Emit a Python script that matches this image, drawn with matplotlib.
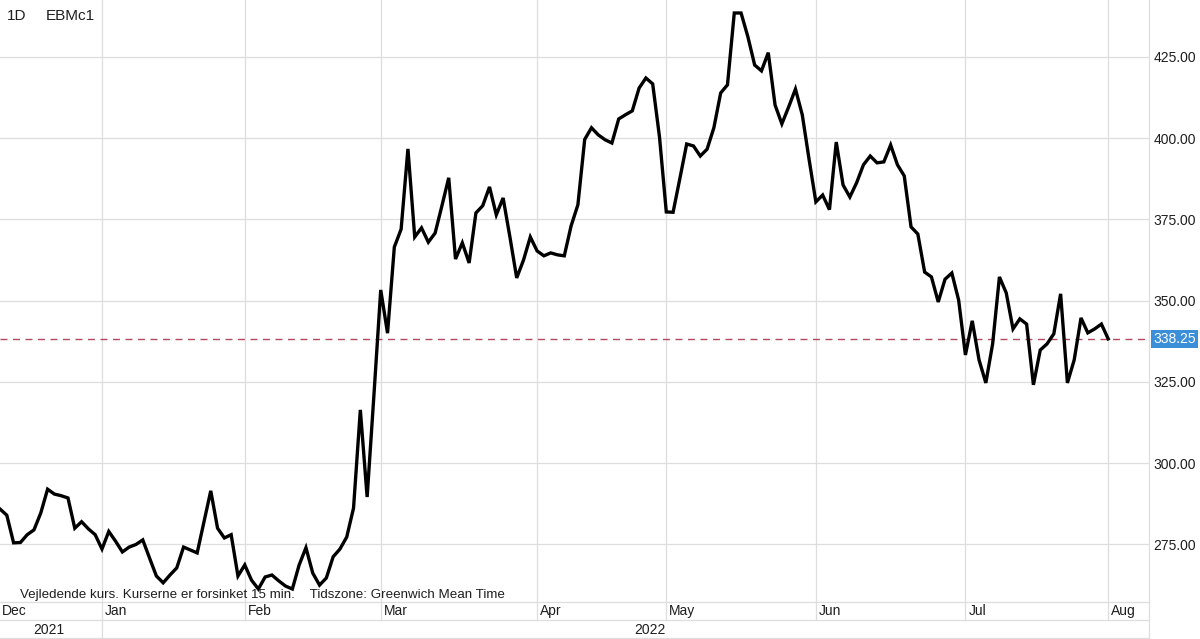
import matplotlib
matplotlib.use("Agg")
import matplotlib.pyplot as plt
import matplotlib.transforms as mtransforms

plt.rcParams['font.family'] = ['Liberation Sans', 'DejaVu Sans']

# Daily closes (trading-day index 0 .. 163), EBMc1
prices = [
    285.9, 284.0, 275.5, 275.6, 278.0, 279.5, 284.7, 292.0, 290.5, 290.0,
    289.3, 280.0, 282.0, 279.8, 278.0, 273.6, 279.0, 276.0, 272.7, 274.2,
    275.0, 276.4, 270.8, 265.3, 263.2, 265.6, 267.8, 274.2, 273.3, 272.4,
    282.0, 291.5, 280.0, 277.0, 278.0, 265.3, 268.7, 264.0, 261.3, 265.0,
    265.6, 263.8, 262.2, 261.3, 268.7, 274.0, 266.2, 262.5, 264.7, 271.2,
    273.6, 277.3, 286.2, 316.4, 289.6, 321.0, 353.3, 340.0, 366.5, 372.0,
    396.7, 369.6, 372.4, 368.0, 370.8, 379.2, 387.8, 362.8, 367.8, 361.6,
    377.0, 379.2, 385.0, 376.4, 381.6, 369.6, 357.0, 362.5, 369.6, 365.3,
    363.8, 364.7, 364.1, 363.8, 373.0, 379.5, 399.6, 403.2, 401.0, 399.5,
    398.5, 405.9, 407.2, 408.4, 415.4, 418.5, 416.7, 400.4, 377.3, 377.2,
    387.6, 398.2, 397.6, 394.5, 396.6, 403.2, 413.9, 416.4, 438.5, 438.5,
    431.2, 422.5, 420.7, 426.3, 410.2, 404.4, 409.6, 415.1, 407.2, 393.5,
    380.4, 382.5, 378.0, 398.8, 385.6, 381.9, 386.3, 391.8, 394.5, 392.4,
    392.7, 397.9, 391.8, 388.4, 372.7, 370.5, 358.8, 357.3, 349.6, 356.6,
    358.5, 350.2, 333.3, 343.8, 331.8, 324.7, 336.7, 357.3, 352.4, 341.3,
    344.4, 342.8, 324.1, 334.8, 336.7, 339.8, 352.1, 324.7, 331.8, 344.7,
    340.1, 341.3, 342.8, 338.25,
]
last_price = 338.25

month_labels = ["Jan", "Feb", "Mar", "Apr", "May", "Jun", "Jul", "Aug"]
month_ticks = [15, 36, 56, 79, 98, 120, 142, 163]   # trading-day index of first day of month
first_label = "Dec"
year_labels = ["2021", "2022"]
yticks = [275, 300, 325, 350, 375, 400, 425]

symbol = "EBMc1"
interval = "1D"
footer = "Vejledende kurs. Kurserne er forsinket 15 min.    Tidszone: Greenwich Mean Time"

W, H = 1200, 639
fig = plt.figure(figsize=(W / 100, H / 100), dpi=100)
plot_right = 1149
plot_bottom = 602
ax = fig.add_axes([0, 1 - plot_bottom / H, plot_right / W, plot_bottom / H])

x = list(range(len(prices)))
ax.set_xlim(0, 169)
ax.set_ylim(257.3, 442.5)

grid_c = "#dedede"
txt_c = "#1e1e1e"
for t in yticks:
    ax.axhline(t, color=grid_c, lw=0.9, zorder=1)
for t in month_ticks:
    ax.axvline(t, color=grid_c, lw=0.9, zorder=1)

ax.axhline(last_price, color="#b5485e", lw=1.0, ls=(0, (5, 4)), zorder=2)
ax.plot(x, prices, color="black", lw=2.4, zorder=3, solid_joinstyle="miter")

for s in ["top", "left", "bottom"]:
    ax.spines[s].set_visible(False)
ax.spines["right"].set_color(grid_c)
ax.spines["right"].set_linewidth(0.9)
ax.set_xticks([])
ax.yaxis.tick_right()
ax.set_yticks(yticks)
ax.set_yticklabels([f"{t:.2f}" for t in yticks], fontsize=10, color=txt_c)
ax.tick_params(axis="y", length=0, pad=3)

# price tag
ax.text(1.0 + 4 / plot_right, last_price, f"{last_price:.2f}",
        transform=mtransforms.blended_transform_factory(ax.transAxes, ax.transData),
        ha="left", va="center", fontsize=10, color="white",
        bbox=dict(boxstyle="square,pad=0.15", fc="#3b8fd8", ec="none"), zorder=5)

# header
fig.text(7 / W, 1 - 16 / H, interval, fontsize=11, color=txt_c, va="center", ha="left")
fig.text(46 / W, 1 - 16 / H, symbol, fontsize=11, color=txt_c, va="center", ha="left")

# footer note
fig.text(20 / W, 1 - 595 / H, footer, fontsize=9.6, color=txt_c, va="center", ha="left")

# bottom axis rows (figure pixel coords)
def fx(px):
    return px / W
def fy(py):
    return 1 - py / H

row1_top, row1_bot, row2_bot = 602, 620, 638
for py in (row1_top, row1_bot, row2_bot):
    fig.add_artist(plt.Line2D([0, fx(plot_right)], [fy(py), fy(py)], color=grid_c, lw=0.9))
fig.add_artist(plt.Line2D([fx(plot_right), fx(plot_right)], [fy(row2_bot), fy(row1_top)], color=grid_c, lw=0.9))

px_per = plot_right / 169
for lab, t in zip(month_labels, month_ticks):
    xp = t * px_per
    fig.add_artist(plt.Line2D([fx(xp), fx(xp)], [fy(row1_bot), fy(row1_top)], color=grid_c, lw=0.9))
    fig.text(fx(xp + 3), fy(611), lab, fontsize=10, color=txt_c, va="center", ha="left")
fig.text(fx(2), fy(611), first_label, fontsize=10, color=txt_c, va="center", ha="left")

# year row
jan_x = month_ticks[0] * px_per
fig.add_artist(plt.Line2D([fx(jan_x), fx(jan_x)], [fy(row2_bot), fy(row1_bot)], color=grid_c, lw=0.9))
fig.text(fx(jan_x / 2 - 2), fy(630), year_labels[0], fontsize=10, color=txt_c, va="center", ha="center")
fig.text(fx(666), fy(630), year_labels[1], fontsize=10, color=txt_c, va="center", ha="right")

fig.savefig("out.png", dpi=100, facecolor="white")
